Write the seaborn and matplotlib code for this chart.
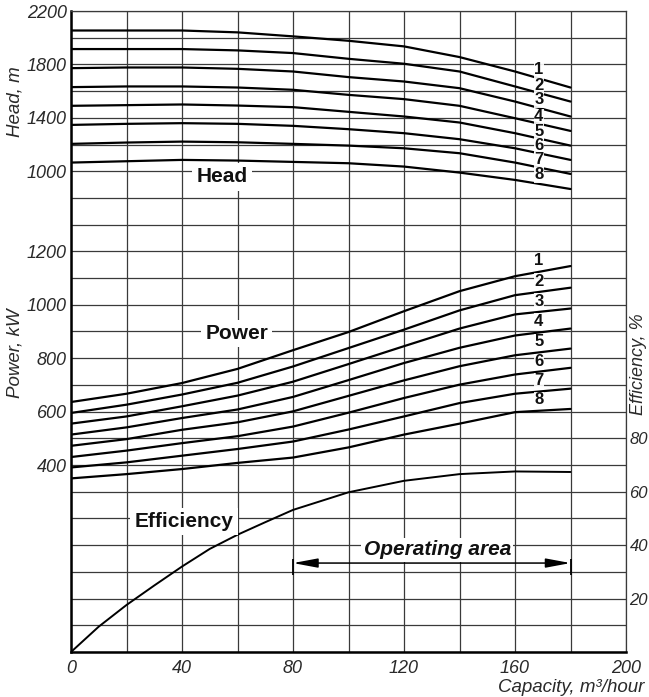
import numpy as np
import pandas as pd
import matplotlib
matplotlib.use("Agg")
import matplotlib.pyplot as plt
import seaborn as sns

# capacity points (m3/hour) where the curves were read
capacity = [0, 20, 40, 60, 80, 100, 120, 140, 160, 180]
impellers = ['1', '2', '3', '4', '5', '6', '7', '8']

# head, m (one list per impeller variant)
head_values = [
    [2054, 2054, 2054, 2040, 2010, 1977, 1935, 1855, 1747, 1627],
    [1915, 1915, 1915, 1905, 1885, 1842, 1805, 1747, 1635, 1522],
    [1772, 1777, 1777, 1767, 1747, 1705, 1672, 1622, 1522, 1410],
    [1630, 1635, 1635, 1627, 1610, 1572, 1540, 1490, 1397, 1302],
    [1490, 1495, 1500, 1492, 1480, 1445, 1410, 1365, 1285, 1192],
    [1347, 1355, 1360, 1355, 1340, 1315, 1285, 1240, 1172, 1085],
    [1205, 1215, 1222, 1217, 1205, 1192, 1172, 1135, 1065, 980],
    [1065, 1075, 1085, 1080, 1070, 1060, 1035, 990, 935, 867],
]

# power, kW
power_values = [
    [636, 667, 707, 760, 830, 898, 976, 1051, 1107, 1145],
    [595, 626, 664, 708, 769, 838, 907, 979, 1036, 1064],
    [555, 582, 620, 660, 712, 778, 845, 911, 964, 986],
    [514, 541, 576, 608, 655, 718, 782, 839, 885, 911],
    [472, 497, 532, 560, 601, 659, 717, 770, 811, 836],
    [430, 454, 482, 508, 544, 596, 651, 701, 739, 764],
    [391, 410, 435, 460, 488, 533, 582, 632, 667, 686],
    [350, 366, 385, 408, 428, 466, 514, 555, 598, 610],
]

# efficiency, %
eff_capacity = [0, 10, 20, 30, 40, 50, 60, 70, 80, 100, 120, 140, 160, 180]
eff_values = [0, 9.5, 17.6, 24.9, 32, 38.6, 43.9, 48.6, 53.2, 59.8, 64.1, 66.6, 67.6, 67.4]

operating_range = [80, 180]

# long-form tables for seaborn
df_head = pd.DataFrame([(q, h, imp) for imp, vals in zip(impellers, head_values)
                        for q, h in zip(capacity, vals)],
                       columns=['capacity', 'head', 'impeller'])
df_power = pd.DataFrame([(q, p, imp) for imp, vals in zip(impellers, power_values)
                         for q, p in zip(capacity, vals)],
                        columns=['capacity', 'power', 'impeller'])
df_eff = pd.DataFrame({'capacity': eff_capacity, 'efficiency': eff_values})

sns.set_style('white')
plt.rcParams['font.family'] = ['Liberation Sans', 'DejaVu Sans']

fig = plt.figure(figsize=(6.49, 6.97), dpi=100)
ax_h = fig.add_axes([71 / 649, 1 - 652 / 697, 555 / 649, 641 / 697])
ax_p = ax_h.twinx()
ax_e = ax_h.twinx()

grid_color = '#3a3a3a'
tick_color = '#2a2a2a'
black8 = ['black'] * 8
tick_size = 13
label_size = 13.5

# --- head (carries the grid) ---
sns.lineplot(data=df_head, x='capacity', y='head', hue='impeller',
             palette=black8, ax=ax_h, linewidth=1.6, legend=False, errorbar=None)
ax_h.set_xlim(0, 200)
ax_h.set_ylim(-2600, 2200)
ax_h.set_xticks(np.arange(0, 201, 20),
                [str(v) if v % 40 == 0 else '' for v in range(0, 201, 20)])
head_ticks = np.arange(-2600, 2201, 200)
ax_h.set_yticks(head_ticks,
                [str(v) if v >= 1000 and (v - 1000) % 400 == 0 else '' for v in head_ticks])
ax_h.grid(True, color=grid_color, linewidth=0.9)
ax_h.set_axisbelow(True)
ax_h.tick_params(axis='both', length=0, labelsize=tick_size, labelcolor=tick_color)
ax_h.tick_params(axis='y', pad=3)
ax_h.tick_params(axis='x', pad=6)
for lab in ax_h.get_xticklabels() + ax_h.get_yticklabels():
    lab.set_fontstyle('italic')
ax_h.set_xlabel('')
ax_h.set_ylabel('')
for side in ['left', 'bottom']:
    ax_h.spines[side].set_linewidth(1.8)
    ax_h.spines[side].set_color('black')
for side in ['top', 'right']:
    ax_h.spines[side].set_linewidth(0.9)
    ax_h.spines[side].set_color(grid_color)

# --- power ---
sns.lineplot(data=df_power, x='capacity', y='power', hue='impeller',
             palette=black8, ax=ax_p, linewidth=1.6, legend=False, errorbar=None)
ax_p.set_ylim(-300, 2100)
ax_p.yaxis.tick_left()
ax_p.set_yticks([400, 600, 800, 1000, 1200])
ax_p.tick_params(axis='y', length=0, labelsize=tick_size, labelcolor=tick_color, pad=3)
for lab in ax_p.get_yticklabels():
    lab.set_fontstyle('italic')
ax_p.set_ylabel('')
for s in ax_p.spines.values():
    s.set_visible(False)

# --- efficiency ---
sns.lineplot(data=df_eff, x='capacity', y='efficiency', ax=ax_e,
             color='black', linewidth=1.4)
ax_e.set_ylim(0, 240)
ax_e.set_yticks([20, 40, 60, 80])
ax_e.tick_params(axis='y', length=0, labelsize=12, labelcolor=tick_color, pad=2.5)
for lab in ax_e.get_yticklabels():
    lab.set_fontstyle('italic')
ax_e.set_ylabel('')
for s in ax_e.spines.values():
    s.set_visible(False)

# operating area arrow
op_y = 33.3
ax_e.annotate('', xy=(operating_range[0], op_y), xytext=(operating_range[1], op_y),
              arrowprops=dict(arrowstyle='<|-|>,head_length=1.5,head_width=0.28',
                              color='black', lw=1.1, shrinkA=0, shrinkB=0))
ax_e.vlines(operating_range, 28.9, 35.0, color='black', linewidth=1.3)
ax_e.text(132, 38.3, 'Operating area', fontsize=15, fontweight='bold', style='italic',
          ha='center', va='center', color='#111111',
          bbox=dict(boxstyle='square,pad=0.12', fc='white', ec='none'), zorder=5)

# section labels
box = dict(boxstyle='square,pad=0.2', fc='white', ec='none')
ax_h.text(54.4, 957, 'Head', fontsize=15, fontweight='bold', ha='center', va='center',
          color='#111111', bbox=box, zorder=5)
ax_p.text(59.7, 892, 'Power', fontsize=15, fontweight='bold', ha='center', va='center',
          color='#111111', bbox=box, zorder=5)
ax_e.text(40.7, 48.8, 'Efficiency', fontsize=15, fontweight='bold', ha='center', va='center',
          color='#111111', bbox=box, zorder=5)

# curve numbers
num_box = dict(boxstyle='square,pad=0.02', fc='white', ec='none', alpha=0.9)
head_label_y = [1760, 1640, 1535, 1407, 1295, 1190, 1085, 972]
power_label_y = [1164, 1089, 1014, 939, 861, 786, 716, 645]
for imp, hy, py in zip(impellers, head_label_y, power_label_y):
    ax_h.text(168.6, hy, imp, fontsize=12, fontweight='bold', ha='center', va='center',
              color='#111111', bbox=num_box, zorder=5)
    ax_p.text(168.6, py, imp, fontsize=12, fontweight='bold', ha='center', va='center',
              color='#111111', bbox=num_box, zorder=5)

# axis titles
fig.text(15.5 / 649, 1 - 102 / 697, 'Head, m', rotation=90, style='italic', fontsize=label_size,
         ha='center', va='center', color=tick_color)
fig.text(15.5 / 649, 1 - 353 / 697, 'Power, kW', rotation=90, style='italic', fontsize=label_size,
         ha='center', va='center', color=tick_color)
fig.text(638.5 / 649, 1 - 364 / 697, 'Efficiency, %', rotation=90, style='italic', fontsize=13,
         ha='center', va='center', color=tick_color)
fig.text(644 / 649, 1 - 687 / 697, 'Capacity, m³/hour', style='italic', fontsize=label_size,
         ha='right', va='center', color=tick_color)

fig.savefig('out.png', dpi=100)
